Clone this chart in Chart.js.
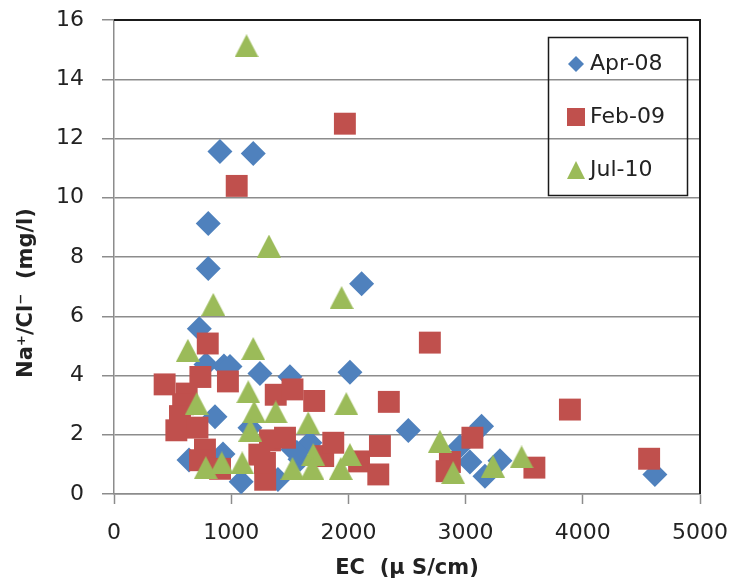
<!DOCTYPE html>
<html>
<head>
<meta charset="utf-8">
<script src="https://cdn.jsdelivr.net/npm/chart.js@4.4.1/dist/chart.umd.min.js"></script>
<style>
  html, body { margin: 0; padding: 0; background: #fff; }
</style>
</head>
<body>
<canvas id="chart" width="733" height="581"></canvas>
<script>
// EC (uS/cm) vs Na+/Cl- ratio, three sampling campaigns
var seriesNames = ['Apr-08', 'Feb-09', 'Jul-10'];
var seriesColors = ['#4F81BD', '#C0504D', '#9BBB59'];
var xTicks = [0, 1000, 2000, 3000, 4000, 5000];
var yTicks = [0, 2, 4, 6, 8, 10, 12, 14, 16];

var apr08 = [
  [904, 11.56], [1188, 11.49], [804, 9.13], [804, 7.61], [728, 5.58], [2113, 7.10],
  [2013, 4.11], [785, 4.37], [938, 4.32], [990, 4.30], [1245, 4.07], [862, 2.61],
  [1160, 2.24], [1085, 0.41], [640, 1.15], [930, 1.35], [1501, 3.96], [1672, 1.73],
  [1587, 1.17], [1527, 1.50], [1399, 0.49], [1561, 1.40], [2511, 2.14], [3136, 2.29],
  [3037, 1.08], [3165, 0.60], [3293, 1.12], [2951, 1.60], [4615, 0.66]
];
var feb09 = [
  [1970, 12.50], [1047, 10.40], [800, 5.08], [432, 3.70], [737, 3.95], [972, 3.80],
  [620, 3.39], [590, 3.03], [563, 2.63], [532, 2.15], [712, 2.24], [776, 1.50],
  [734, 1.14], [905, 0.85], [1240, 1.33], [1290, 0.48], [1380, 3.35], [1523, 3.53],
  [1708, 3.14], [1331, 1.81], [1459, 1.90], [1288, 1.05], [1785, 1.28], [1871, 1.73],
  [2091, 1.10], [2269, 1.62], [2255, 0.66], [2345, 3.11], [2695, 5.11], [3058, 1.90],
  [2866, 1.08], [2838, 0.77], [3587, 0.89], [3890, 2.85], [4566, 1.19]
];
var jul10 = [
  [1131, 15.13], [1322, 8.37], [847, 6.40], [1942, 6.63], [630, 4.85], [1188, 4.91],
  [1982, 3.05], [705, 3.05], [1146, 3.45], [1196, 2.77], [1163, 2.15], [1380, 2.77],
  [1657, 2.40], [783, 0.89], [919, 1.05], [1094, 1.05], [1523, 0.86], [1700, 1.33],
  [1693, 0.86], [1935, 0.86], [2013, 1.33], [2781, 1.78], [2894, 0.72], [3233, 0.94],
  [3478, 1.25]
];

var GRID = '#8c8c8c';
var TEXT = '#222';
var FONT = 'DejaVu Sans';

function toPoints(arr) {
  return arr.map(function (p) { return { x: p[0], y: p[1] }; });
}

// excel style triangle, as tall as it is wide
function triangleMarker(w, h, color) {
  var c = document.createElement('canvas');
  c.width = w; c.height = h;
  var g = c.getContext('2d');
  g.fillStyle = color;
  g.beginPath();
  g.moveTo(w / 2, 0);
  g.lineTo(w, h);
  g.lineTo(0, h);
  g.closePath();
  g.fill();
  return c;
}

function drawMarker(ctx, kind, x, y, s, color) {
  ctx.fillStyle = color;
  ctx.beginPath();
  if (kind === 0) {
    ctx.moveTo(x, y - s / 2); ctx.lineTo(x + s / 2, y);
    ctx.lineTo(x, y + s / 2); ctx.lineTo(x - s / 2, y);
  } else if (kind === 1) {
    ctx.rect(x - s / 2, y - s / 2, s, s);
  } else {
    ctx.moveTo(x, y - s / 2); ctx.lineTo(x + s / 2, y + s / 2);
    ctx.lineTo(x - s / 2, y + s / 2);
  }
  ctx.closePath();
  ctx.fill();
}

var decor = {
  id: 'decor',
  afterDraw: function (chart) {
    var ctx = chart.ctx, a = chart.chartArea;
    ctx.save();
    // plot frame, top and right edges
    ctx.strokeStyle = '#1a1a1a';
    ctx.lineWidth = 2;
    ctx.beginPath();
    ctx.moveTo(a.left, a.top);
    ctx.lineTo(a.right, a.top);
    ctx.lineTo(a.right, a.bottom);
    ctx.stroke();

    // legend box
    ctx.lineWidth = 1.5;
    ctx.strokeRect(548.5, 37.5, 139, 158);
    var rows = [64, 117, 170];
    var sizes = [16, 18, 18];
    ctx.font = '22px "' + FONT + '"';
    ctx.textBaseline = 'middle';
    ctx.textAlign = 'left';
    for (var i = 0; i < seriesNames.length; i++) {
      drawMarker(ctx, i, 576, rows[i], sizes[i], seriesColors[i]);
      ctx.fillStyle = TEXT;
      ctx.fillText(seriesNames[i], 590, rows[i]);
    }

    // axis titles
    ctx.font = 'bold 21px "' + FONT + '"';
    ctx.textAlign = 'center';
    ctx.fillText('EC  (\u00b5 S/cm)', 407, 569);
    ctx.translate(27, 293);
    ctx.rotate(-Math.PI / 2);
    ctx.fillText('Na\u207a/Cl\u207b  (mg/l)', 0, 0);
    ctx.restore();
  }
};

var datasets = [
  { label: seriesNames[0], data: toPoints(apr08), pointStyle: 'rectRot', pointRadius: 12.5, order: 3 },
  { label: seriesNames[1], data: toPoints(feb09), pointStyle: 'rect', pointRadius: 15.5, order: 2 },
  { label: seriesNames[2], data: toPoints(jul10), pointStyle: triangleMarker(24, 23, seriesColors[2]), pointRadius: 12, order: 1 }
];
datasets.forEach(function (d, i) {
  d.backgroundColor = seriesColors[i];
  d.borderColor = seriesColors[i];
  d.borderWidth = 0;
  d.pointBorderWidth = 0;
  d.showLine = false;
});

// fixed plot box: no label overhang padding, fixed axis sizes
function fitX(s) { s.height = 87; s.paddingLeft = 0; s.paddingRight = 0; }
function fitY(s) { s.width = 114; s.paddingTop = 0; s.paddingBottom = 0; }

new Chart(document.getElementById('chart'), {
  type: 'scatter',
  data: { datasets: datasets },
  options: {
    responsive: false,
    animation: false,
    devicePixelRatio: 1,
    events: [],
    layout: { padding: { top: 20, right: 33, left: 0, bottom: 0 } },
    plugins: { legend: { display: false }, tooltip: { enabled: false } },
    scales: {
      x: {
        type: 'linear',
        min: xTicks[0],
        max: xTicks[xTicks.length - 1],
        afterBuildTicks: function (s) { s.ticks = xTicks.map(function (v) { return { value: v }; }); },
        afterFit: fitX,
        ticks: { padding: 16, color: TEXT, font: { family: FONT, size: 22 }, callback: function (v) { return String(v); } },
        grid: { drawOnChartArea: false, tickLength: 10, tickColor: GRID, tickWidth: 1.5 },
        border: { color: GRID, width: 1.5 }
      },
      y: {
        min: yTicks[0],
        max: yTicks[yTicks.length - 1],
        afterBuildTicks: function (s) { s.ticks = yTicks.map(function (v) { return { value: v }; }); },
        afterFit: fitY,
        ticks: { padding: 18, color: TEXT, font: { family: FONT, size: 22 }, callback: function (v) { return String(v); } },
        grid: { color: GRID, lineWidth: 1.5, tickLength: 12, tickColor: GRID, tickWidth: 1.5 },
        border: { color: GRID, width: 1.5 }
      }
    }
  },
  plugins: [decor]
});
</script>
</body>
</html>
